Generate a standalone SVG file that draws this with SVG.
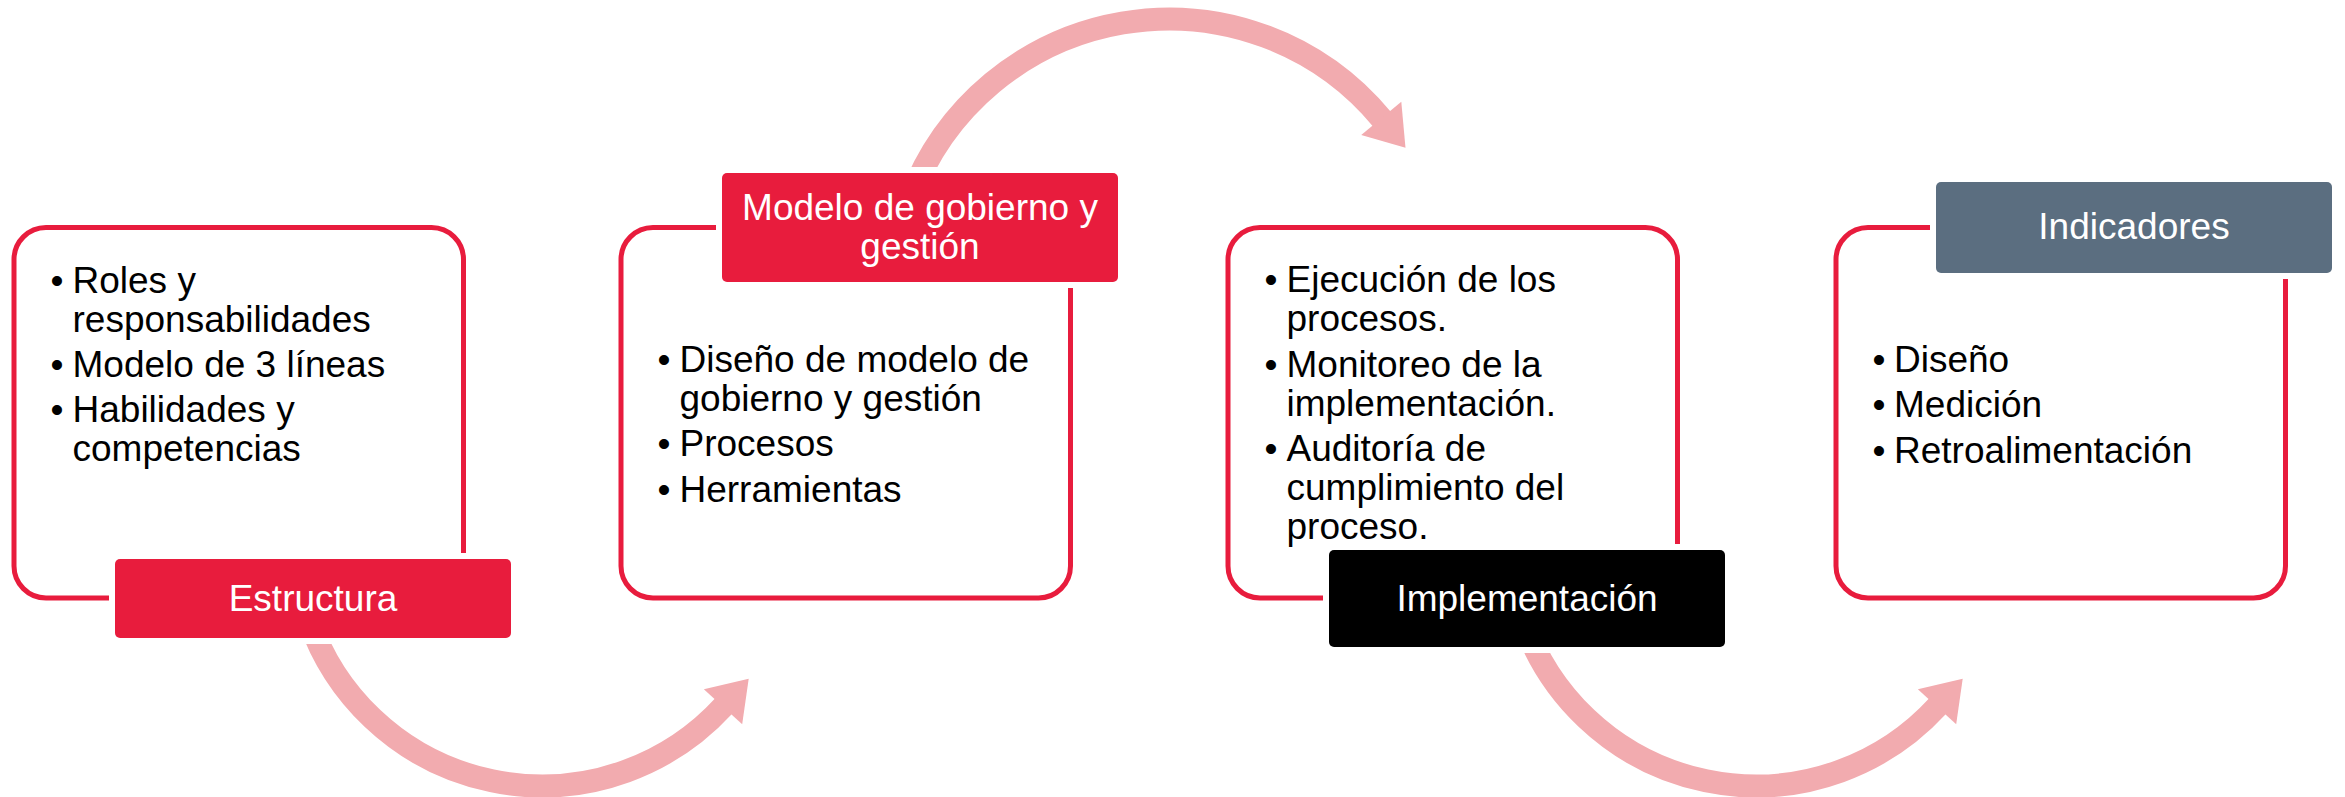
<svg xmlns="http://www.w3.org/2000/svg" width="2345" height="797" viewBox="0 0 2345 797">
<defs>
<style>
.box{fill:#ffffff;stroke:#E81C3D;stroke-width:5}
.gap{fill:#ffffff}
.red{fill:#E81C3D}
.blk{fill:#000000}
.gry{fill:#5B6E80}
.t{font-family:"Liberation Sans",Arial,sans-serif;font-size:37px;fill:#000000}
.b{font-family:"Liberation Sans",Arial,sans-serif;font-size:37px;fill:#000000;text-anchor:middle}
.lt{font-family:"Liberation Sans",Arial,sans-serif;font-size:37px;fill:#ffffff;text-anchor:middle}
.arr{fill:none;stroke:#F2ABAF;stroke-width:23;marker-end:url(#ah)}
</style>
<marker id="ah" markerUnits="userSpaceOnUse" orient="auto" refX="0" refY="0" markerWidth="40" markerHeight="60" overflow="visible">
<path d="M-1,-26 L37,0 L-1,26 Z" fill="#F2ABAF"/>
</marker>
</defs>
<rect width="2345" height="797" fill="#ffffff"/>
<g id="connectors">
<path class="arr" d="M309 620 A246.5 246.5 0 0 0 723.7 706"/>
<path class="arr" d="M909.7 200 A276.3 276.3 0 0 1 1381.9 119.2"/>
<path class="arr" d="M1523 620 A246.5 246.5 0 0 0 1937.7 706"/>
</g>
<g id="node-estructura">
<rect class="box" x="14" y="227.5" width="449.5" height="370.5" rx="32"/>
<text class="b" x="57" y="292.5">•</text>
<text class="t" x="72.5" y="292.5">Roles y</text>
<text class="t" x="72.5" y="331.5">responsabilidades</text>
<text class="b" x="57" y="376.5">•</text>
<text class="t" x="72.5" y="376.5">Modelo de 3 líneas</text>
<text class="b" x="57" y="422">•</text>
<text class="t" x="72.5" y="422">Habilidades y</text>
<text class="t" x="72.5" y="461">competencias</text>
<rect class="gap" x="109" y="553" width="408" height="91" rx="10"/>
<rect class="red" x="115" y="559" width="396" height="79" rx="5"/>
<text class="lt" x="313" y="610.5">Estructura</text>
</g>
<g id="node-modelo">
<rect class="box" x="621" y="227.5" width="449.5" height="370.5" rx="32"/>
<text class="b" x="664" y="372">•</text>
<text class="t" x="679.5" y="372">Diseño de modelo de</text>
<text class="t" x="679.5" y="410.5">gobierno y gestión</text>
<text class="b" x="664" y="455.5">•</text>
<text class="t" x="679.5" y="455.5">Procesos</text>
<text class="b" x="664" y="501.5">•</text>
<text class="t" x="679.5" y="501.5">Herramientas</text>
<rect class="gap" x="716" y="167" width="408" height="121" rx="10"/>
<rect class="red" x="722" y="173" width="396" height="109" rx="5"/>
<text class="lt" x="920" y="220">Modelo de gobierno y</text>
<text class="lt" x="920" y="258.5">gestión</text>
</g>
<g id="node-implementacion">
<rect class="box" x="1228" y="227.5" width="449.5" height="370.5" rx="32"/>
<text class="b" x="1271" y="292">•</text>
<text class="t" x="1286.5" y="292">Ejecución de los</text>
<text class="t" x="1286.5" y="331">procesos.</text>
<text class="b" x="1271" y="376.5">•</text>
<text class="t" x="1286.5" y="376.5">Monitoreo de la</text>
<text class="t" x="1286.5" y="415.5">implementación.</text>
<text class="b" x="1271" y="460.5">•</text>
<text class="t" x="1286.5" y="460.5">Auditoría de</text>
<text class="t" x="1286.5" y="499.5">cumplimiento del</text>
<text class="t" x="1286.5" y="538.5">proceso.</text>
<rect class="gap" x="1323" y="544" width="408" height="109" rx="10"/>
<rect class="blk" x="1329" y="550" width="396" height="97" rx="5"/>
<text class="lt" x="1527" y="611">Implementación</text>
</g>
<g id="node-indicadores">
<rect class="box" x="1836" y="227.5" width="449.5" height="370.5" rx="32"/>
<text class="b" x="1879" y="372">•</text>
<text class="t" x="1894" y="372">Diseño</text>
<text class="b" x="1879" y="417">•</text>
<text class="t" x="1894" y="417">Medición</text>
<text class="b" x="1879" y="462.5">•</text>
<text class="t" x="1894" y="462.5">Retroalimentación</text>
<rect class="gap" x="1930" y="176" width="408" height="103" rx="10"/>
<rect class="gry" x="1936" y="182" width="396" height="91" rx="5"/>
<text class="lt" x="2134" y="238.5">Indicadores</text>
</g>
</svg>
